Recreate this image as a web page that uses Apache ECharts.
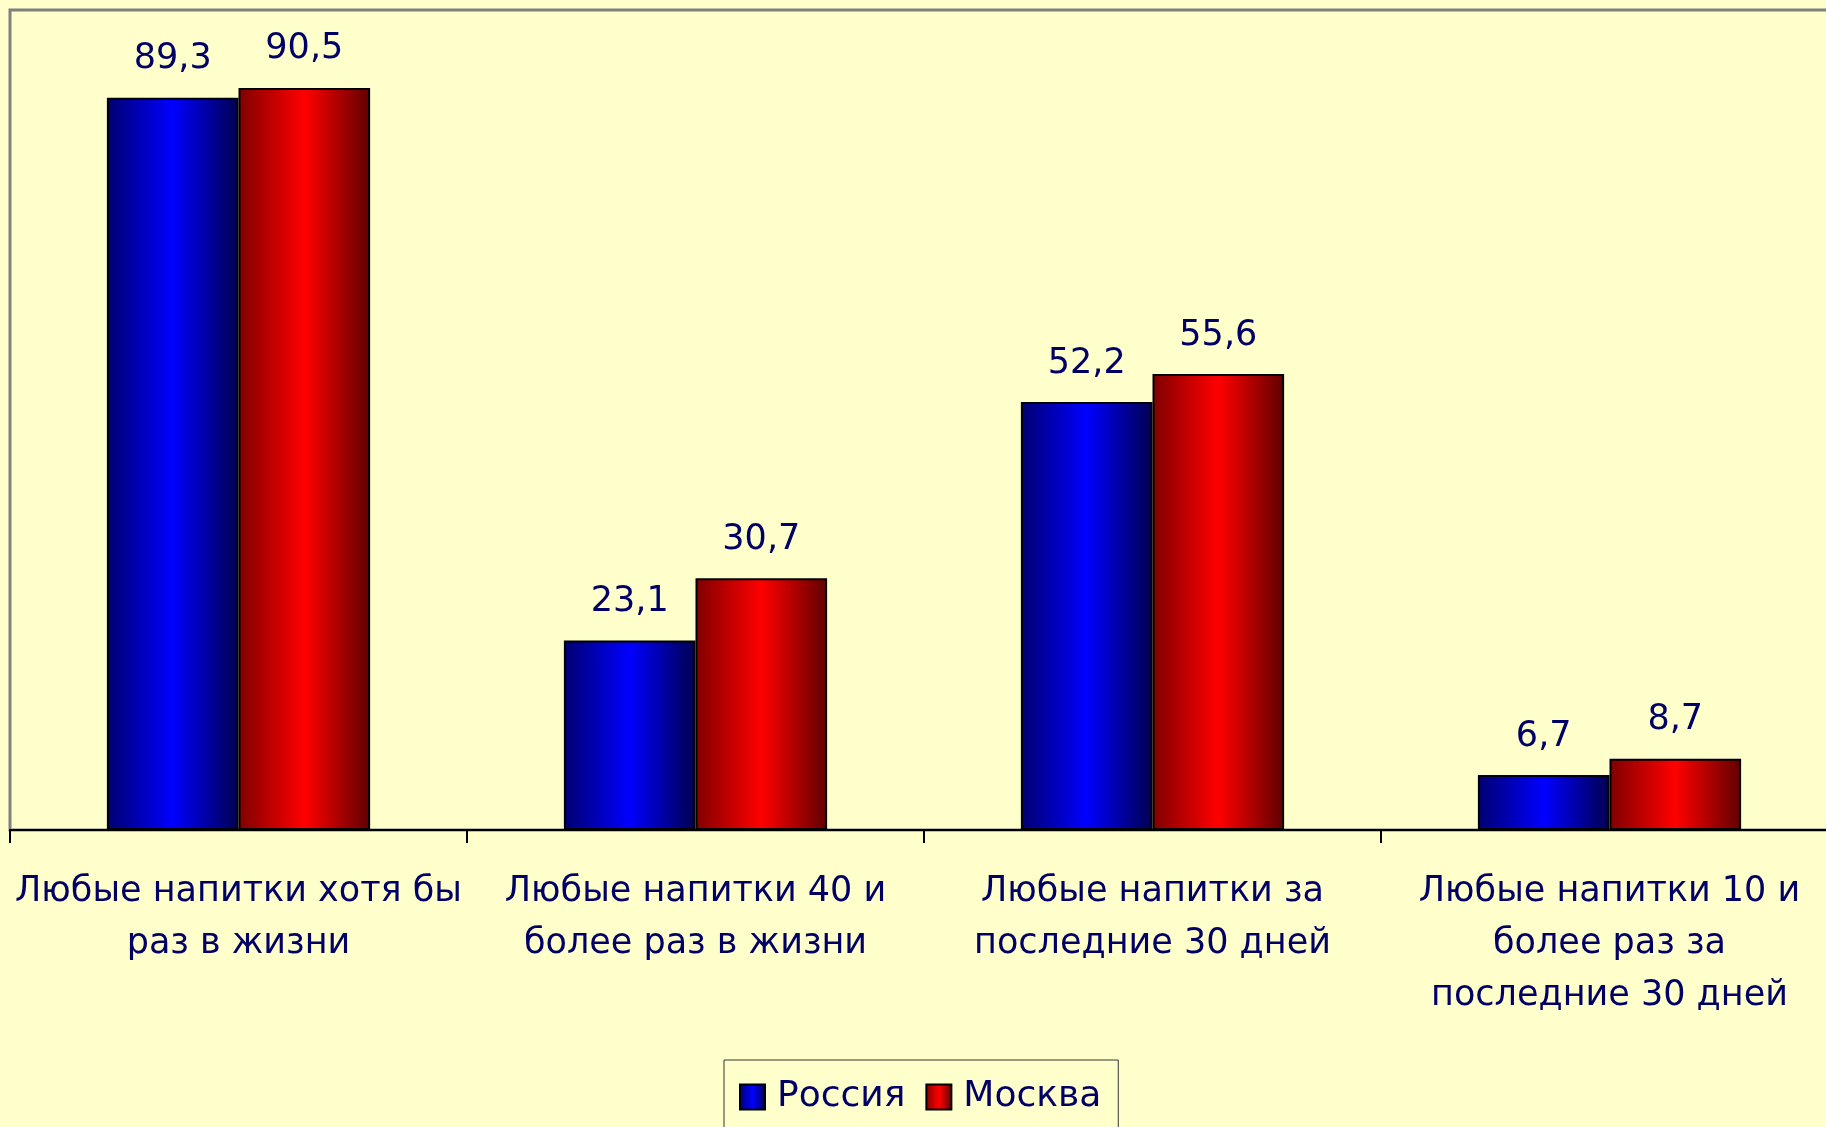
<!DOCTYPE html>
<html>
<head>
<meta charset="utf-8">
<script src="https://cdn.jsdelivr.net/npm/echarts@6/dist/echarts.min.js"></script>
<style>
  html, body { margin: 0; padding: 0; background: #FFFFCC; }
  #chart { width: 1826px; height: 1127px; }
</style>
</head>
<body>
<div id="chart"></div>
<script>
const categories = [
  'Любые напитки хотя бы\nраз в жизни',
  'Любые напитки 40 и\nболее раз в жизни',
  'Любые напитки за\nпоследние 30 дней',
  'Любые напитки 10 и\nболее раз за\nпоследние 30 дней'
];
const seriesNames = ['Россия', 'Москва'];
const russia = [89.3, 23.1, 52.2, 6.7];
const moscow = [90.5, 30.7, 55.6, 8.7];

const FONT = '"DejaVu Sans", sans-serif';
const FS = 35;
const TXT = '#000066';

function grad(dark, bright, dark2) {
  return new echarts.graphic.LinearGradient(0, 0, 1, 0, [
    { offset: 0, color: dark },
    { offset: 0.5, color: bright },
    { offset: 1, color: dark2 }
  ]);
}

const chart = echarts.init(document.getElementById('chart'), null, { renderer: 'canvas' });
const valueLabel = {
  show: true,
  position: 'top',
  distance: 21,
  fontFamily: FONT,
  fontSize: FS,
  color: TXT,
  formatter: p => String(p.value).replace('.', ',')
};
chart.setOption({
  backgroundColor: '#FFFFCC',
  animation: false,
  grid: {
    left: 10, top: 10, right: -12, bottom: 297,
    outerBoundsMode: 'none',
    show: true, borderColor: '#808080', borderWidth: 3,
    backgroundColor: 'transparent'
  },
  legend: {
    data: seriesNames,
    left: 724, top: 1060,
    orient: 'horizontal',
    itemWidth: 25, itemHeight: 25, itemGap: 20,
    padding: [19, 17, 40, 15],
    borderColor: '#333333', borderWidth: 1,
    backgroundColor: '#FFFFCC',
    icon: 'rect',
    textStyle: { fontFamily: FONT, fontSize: 36, color: TXT, padding: [0, 0, 0, 7] }
  },
  xAxis: {
    type: 'category',
    data: categories,
    axisLine: { show: true, lineStyle: { color: '#000000', width: 2 } },
    axisTick: { show: true, length: 13, lineStyle: { color: '#000000', width: 2 } },
    axisLabel: {
      interval: 0, margin: 36,
      fontFamily: FONT, fontSize: FS, color: TXT, lineHeight: 52
    },
    splitLine: { show: false }
  },
  yAxis: {
    type: 'value', min: 0, max: 100,
    show: false,
    splitLine: { show: false }
  },
  series: [
    {
      name: seriesNames[0], type: 'bar', data: russia,
      barGap: '0%', barCategoryGap: '42.4%',
      itemStyle: { color: grad('#000070', '#0000FF', '#000050'), borderColor: '#000000', borderWidth: 2 },
      label: valueLabel
    },
    {
      name: seriesNames[1], type: 'bar', data: moscow,
      barGap: '0%', barCategoryGap: '42.4%',
      itemStyle: { color: grad('#800000', '#FF0000', '#600000'), borderColor: '#000000', borderWidth: 2 },
      label: valueLabel
    }
  ]
});
</script>
</body>
</html>
